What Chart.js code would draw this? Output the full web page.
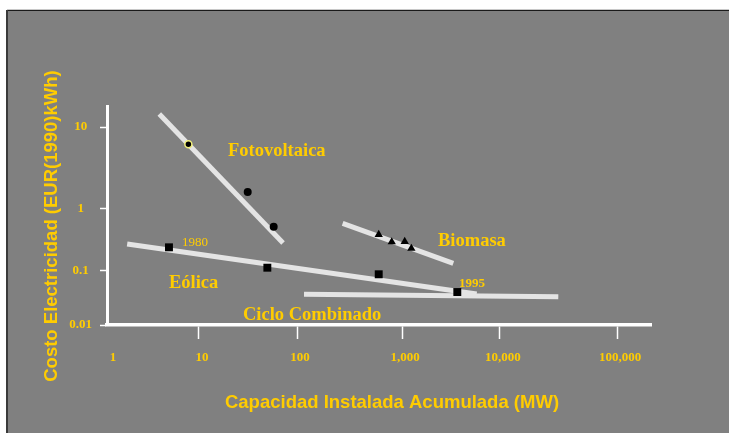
<!DOCTYPE html>
<html><head><meta charset="utf-8">
<script src="https://cdn.jsdelivr.net/npm/chart.js@4/dist/chart.umd.min.js"></script>
<style>html,body{margin:0;padding:0;background:#fff}canvas{display:block}</style>
</head><body>
<canvas id="c" width="729" height="433"></canvas>
<script>
// ---- data ----
const xTickValues = [1, 10, 100, 1000, 10000, 100000];
const yTickValues = [0.01, 0.1, 1, 10];

const fotoX = [7.6, 31.4, 57.8];
const fotoY = [6.15, 1.61, 0.518];
const fotoLineX = [3.58, 72];
const fotoLineY = [14.4, 0.283];

const bioX = [600, 798, 1066, 1245];
const bioY = [0.388, 0.294, 0.299, 0.231];
const bioLineX = [272, 3337];
const bioLineY = [0.588, 0.133];

const eolX = [4.6, 49.8, 600, 3667];
const eolY = [0.241, 0.113, 0.0869, 0.0408];
const eolLineX = [1.56, 5785];
const eolLineY = [0.272, 0.0375];

const ccLineX = [116.6, 31500];
const ccLineY = [0.0370, 0.0334];

const seriesNames = ['Fotovoltaica', 'Biomasa', 'Eólica', 'Ciclo Combinado'];
const yearLabels = ['1980', '1995'];
const xTitle = 'Capacidad Instalada Acumulada (MW)';
const yTitle = 'Costo Electricidad (EUR(1990)kWh)';

const pts = (xs, ys) => xs.map((x, i) => ({x, y: ys[i]}));

// ---- hand-drawn (uneven) log axis: decade -> fraction of axis ----
const AXIS_ANCHORS = {
  x: [[-0.034, 0], [0, 0.0055], [1, 0.1691], [2, 0.3493], [3, 0.5423], [4, 0.7224], [5, 0.9375], [5.29, 1]],
  y: [[-2, 0], [-1, 0.2466], [0, 0.5297], [1, 0.9041], [1.256, 1]]
};
class PiecewiseLogScale extends Chart.LogarithmicScale {
  _anch() { return AXIS_ANCHORS[this.id]; }
  _d2f(d) {
    const a = this._anch(); let i = 0;
    while (i < a.length - 2 && d > a[i + 1][0]) i++;
    const [d0, f0] = a[i], [d1, f1] = a[i + 1];
    return f0 + (d - d0) * (f1 - f0) / (d1 - d0);
  }
  _f2d(f) {
    const a = this._anch(); let i = 0;
    while (i < a.length - 2 && f > a[i + 1][1]) i++;
    const [d0, f0] = a[i], [d1, f1] = a[i + 1];
    return d0 + (f - f0) * (d1 - d0) / (f1 - f0);
  }
  getPixelForValue(value) {
    if (value === undefined || value === 0) value = this.min;
    if (value === null || isNaN(value) || value <= 0) return NaN;
    return this.getPixelForDecimal(this._d2f(Math.log10(value)));
  }
  getValueForPixel(pixel) {
    return Math.pow(10, this._f2d(this.getDecimalForPixel(pixel)));
  }
}
PiecewiseLogScale.id = 'pwlog';
PiecewiseLogScale.defaults = Object.assign({}, Chart.LogarithmicScale.defaults);
Chart.register(PiecewiseLogScale);

const YELLOW = '#FFCC00';
const LINE = '#E4E4E4';

const bgPlugin = {
  id: 'bg',
  beforeDraw(chart) {
    const c = chart.ctx;
    c.save();
    c.fillStyle = '#fff'; c.fillRect(0, 0, chart.width, chart.height);
    c.fillStyle = '#808080'; c.fillRect(7, 10, chart.width - 7, chart.height - 10);
    c.fillStyle = '#c8c8c8'; c.fillRect(7, 9, chart.width - 7, 1);
    c.fillStyle = '#1a1a1a'; c.fillRect(7, 10, chart.width - 7, 1);
    c.fillStyle = '#3a3a3a'; c.fillRect(6, 10, 2, chart.height - 10);
    c.restore();
  }
};
const textPlugin = {
  id: 'texts',
  afterDraw(chart) {
    const c = chart.ctx;
    c.save();
    c.fillStyle = YELLOW;
    c.textBaseline = 'middle';
    c.textAlign = 'left';
    c.font = 'bold 18.5px "Liberation Serif", "Times New Roman", serif';
    c.fillText(seriesNames[0], 228, 151);
    c.fillText(seriesNames[1], 438, 241);
    c.fillText(seriesNames[2], 169, 283);
    c.fillText(seriesNames[3], 243, 315);
    c.font = '13px "Liberation Serif", "Times New Roman", serif';
    c.fillText(yearLabels[0], 182, 243);
    c.font = 'bold 13px "Liberation Serif", "Times New Roman", serif';
    c.fillText(yearLabels[1], 459, 284);
    c.font = 'bold 18.5px "Liberation Sans", Arial, sans-serif';
    c.textAlign = 'center';
    c.fillText(xTitle, 392, 403);
    c.translate(52, 226);
    c.rotate(-Math.PI / 2);
    c.fillText(yTitle, 0, 0);
    c.restore();
  }
};

new Chart(document.getElementById('c'), {
  type: 'scatter',
  data: {
    datasets: [
      { data: pts(fotoX, fotoY), pointStyle: 'circle', pointRadius: [3.5, 4, 4],
        backgroundColor: '#000', borderColor: ['#f2f07a', '#000', '#000'], pointBorderWidth: [1.5, 0, 0] },
      { data: pts(bioX, bioY), pointStyle: 'triangle', pointRadius: 4.8, backgroundColor: '#000', borderColor: '#000', pointBorderWidth: 0 },
      { data: pts(eolX, eolY), pointStyle: 'rect', pointRadius: 5.6, backgroundColor: '#000', borderColor: '#000', pointBorderWidth: 0 },
      { data: pts(fotoLineX, fotoLineY), showLine: true, pointRadius: 0, borderColor: LINE, borderWidth: 5 },
      { data: pts(bioLineX, bioLineY), showLine: true, pointRadius: 0, borderColor: LINE, borderWidth: 5 },
      { data: pts(eolLineX, eolLineY), showLine: true, pointRadius: 0, borderColor: LINE, borderWidth: 5 },
      { data: pts(ccLineX, ccLineY), showLine: true, pointRadius: 0, borderColor: LINE, borderWidth: 5 }
    ]
  },
  options: {
    responsive: false,
    animation: false,
    devicePixelRatio: 1,
    layout: { padding: { top: 106, right: 78, left: 0, bottom: 0 } },
    plugins: { legend: { display: false }, tooltip: { enabled: false } },
    scales: {
      x: {
        type: 'pwlog',
        min: Math.pow(10, -0.034), max: Math.pow(10, 5.29),
        afterFit(s) { s.height = 108; },
        afterBuildTicks(s) { s.ticks = xTickValues.map(v => ({ value: v })); },
        border: { display: true, color: '#fff', width: 3.5 },
        grid: { drawOnChartArea: false, drawTicks: true, tickLength: 14, tickWidth: 1.5,
                tickColor: (ctx) => (ctx.index === 0 ? 'rgba(0,0,0,0)' : '#fff') },
        ticks: {
          autoSkip: false, maxRotation: 0, labelOffset: 3, padding: 11,
          color: YELLOW, font: { family: '"Liberation Serif", "Times New Roman", serif', size: 13, weight: 'bold' },
          callback: (v) => Number(v).toLocaleString('en-US')
        }
      },
      y: {
        type: 'pwlog',
        min: 0.01, max: Math.pow(10, 1.256),
        afterFit(s) { s.width = 107; },
        afterBuildTicks(s) { s.ticks = yTickValues.map(v => ({ value: v })); },
        border: { display: true, color: '#fff', width: 3 },
        grid: { drawOnChartArea: false, drawTicks: true, tickLength: 7, tickWidth: 1.5, tickColor: '#fff' },
        ticks: {
          autoSkip: false, crossAlign: 'center', padding: 8,
          color: YELLOW, font: { family: '"Liberation Serif", "Times New Roman", serif', size: 13, weight: 'bold' },
          callback: (v) => String(v)
        }
      }
    }
  },
  plugins: [bgPlugin, textPlugin]
});
</script>
</body></html>
